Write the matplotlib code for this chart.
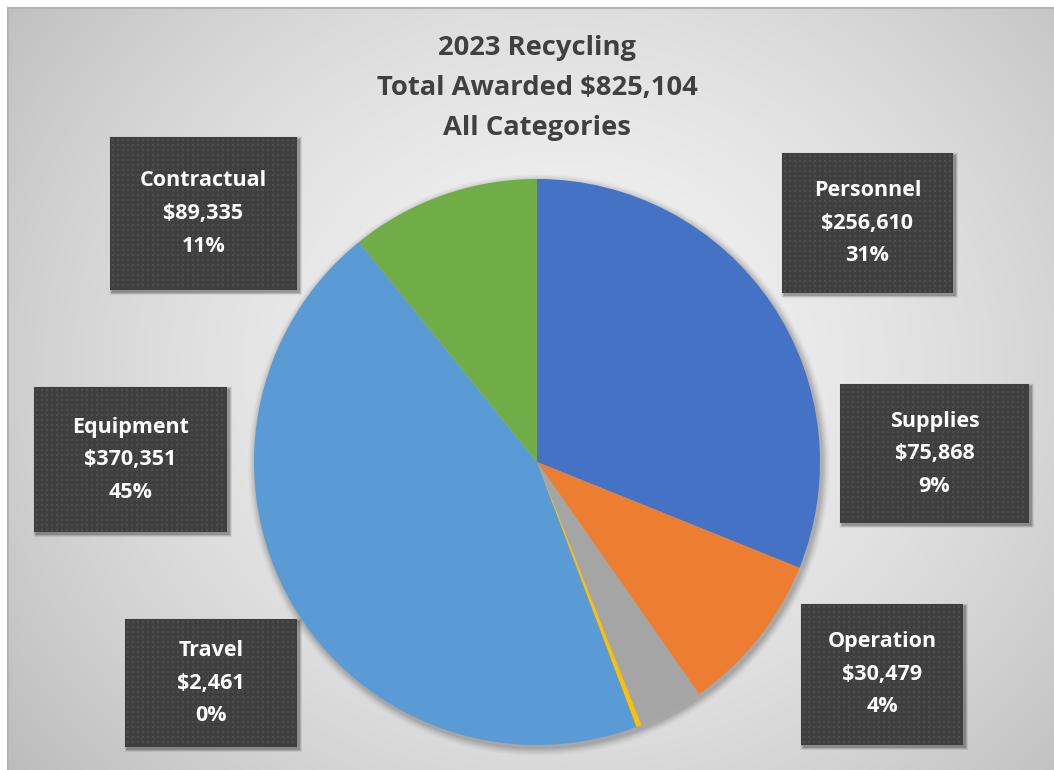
import numpy as np
import matplotlib
matplotlib.use("Agg")
import matplotlib.pyplot as plt
from matplotlib.patches import Rectangle

# ---- data ----
categories = ["Personnel", "Supplies", "Operation", "Travel", "Equipment", "Contractual"]
amounts = [256610, 75868, 30479, 2461, 370351, 89335]
percent_labels = ["31%", "9%", "4%", "0%", "45%", "11%"]
colors = ["#4472C4", "#ED7D31", "#A5A5A5", "#FFC000", "#5B9BD5", "#70AD47"]
title_lines = ["2023 Recycling", "Total Awarded $825,104", "All Categories"]

# label box layout in pixels (x0, y0, x1, y1) - top-left origin
boxes = {
    "Personnel": (782, 153, 953, 293),
    "Supplies": (840, 384, 1029, 523),
    "Operation": (801, 604, 963, 745),
    "Travel": (125, 619, 297, 747),
    "Equipment": (34, 387, 227, 532),
    "Contractual": (110, 137, 297, 290),
}

W, H = 1054, 770
FONT = "Open Sans"
fig = plt.figure(figsize=(W / 100, H / 100), dpi=100)
fig.patch.set_facecolor("white")

# background overlay axes in pixel coords
bg = fig.add_axes([0, 0, 1, 1])
bg.set_xlim(0, W)
bg.set_ylim(H, 0)
bg.axis("off")
yy, xx = np.mgrid[0:H, 0:W]
cx, cy = 560, 360
r = np.sqrt((xx - cx) ** 2 + ((yy - cy) * 1.1) ** 2) / 660.0
gray = 0.955 - 0.19 * np.clip(r, 0, 1.3) ** 1.6
img = np.dstack([gray, gray, gray])
bg.imshow(img, extent=(8, W, H, 8), zorder=0, interpolation="bilinear")
bg.plot([8, W], [8, 8], color="#b5b5b5", lw=1.5, zorder=1)
bg.plot([8, 8], [8, H], color="#b5b5b5", lw=1.5, zorder=1)

# title
for i, t in enumerate(title_lines):
    bg.text(537, 48 + i * 40, t, ha="center", va="center", fontsize=19.7,
            fontweight="bold", color="#404040", family=FONT, zorder=5)

# pie shadow
pcx, pcy, pr = 537, 462, 283
for k, a in zip(range(8, 0, -1), np.linspace(0.015, 0.05, 8)):
    circ = plt.Circle((pcx + 2, pcy + 3), pr + k, color="black", alpha=a, lw=0, zorder=2)
    bg.add_patch(circ)

# pie axes
ax = fig.add_axes([(pcx - pr) / W, (H - pcy - pr) / H, 2 * pr / W, 2 * pr / H])
ax.pie(amounts, colors=colors, startangle=90, counterclock=False, radius=1,
       wedgeprops=dict(linewidth=0))
ax.set_xlim(-1, 1)
ax.set_ylim(-1, 1)
ax.set_aspect("auto")
ax.axis("off")

# label boxes on top
ov = fig.add_axes([0, 0, 1, 1])
ov.set_xlim(0, W)
ov.set_ylim(H, 0)
ov.axis("off")
ov.patch.set_alpha(0)

for cat, amt, pct in zip(categories, amounts, percent_labels):
    x0, y0, x1, y1 = boxes[cat]
    # shadow
    for k, a in zip(range(6, 0, -1), np.linspace(0.03, 0.10, 6)):
        ov.add_patch(Rectangle((x0 + 2 - k / 2, y0 + 2 - k / 2), x1 - x0 + k, y1 - y0 + k,
                               color="black", alpha=a, lw=0, zorder=3))
    ov.add_patch(Rectangle((x0, y0), x1 - x0, y1 - y0, facecolor="#3f3f3f",
                           edgecolor="none", zorder=4))
    # dotted texture
    gx = np.arange(x0 + 3, x1 - 1, 5)
    gy = np.arange(y0 + 3, y1 - 1, 5)
    GX, GY = np.meshgrid(gx, gy)
    ov.scatter(GX.ravel(), GY.ravel(), s=1.0, marker="s", color="#4d4d4d",
               lw=0, zorder=4.5)
    xc = (x0 + x1) / 2
    yc = (y0 + y1) / 2
    lines = [cat, f"${amt:,}", pct]
    for i, t in enumerate(lines):
        ov.text(xc, yc + (i - 1) * 32.5, t, ha="center", va="center", fontsize=15.5,
                fontweight="bold", color="white", family=FONT, zorder=6)

fig.savefig("out.png", dpi=100)
